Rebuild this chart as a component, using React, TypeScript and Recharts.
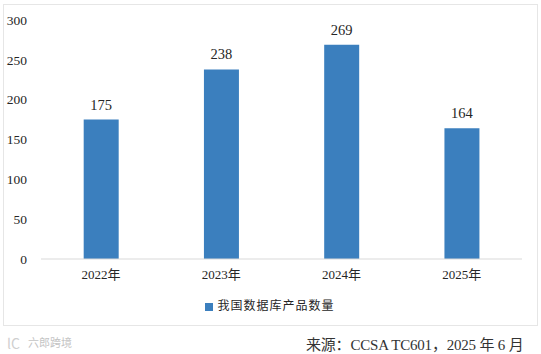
import { BarChart, Bar, XAxis, YAxis, Legend, LabelList } from 'recharts'

const years = ['2022年', '2023年', '2024年', '2025年']
const counts = [175, 238, 269, 164]
const yTicks = [0, 50, 100, 150, 200, 250, 300]

const data = years.map((year, i) => ({ year, count: counts[i] }))

const FONT = '"Liberation Serif", "Noto Sans CJK SC", serif'
const TEXT = '#262626'

export default function App() {
	return (
		<div style={{ position: 'absolute', left: 0, top: 0, width: 541, height: 354, background: '#fff', fontFamily: FONT }}>
			<div style={{ position: 'absolute', left: 3, top: 4, width: 533, height: 320, border: '1.5px solid #e6e6e6' }} />
			<div style={{ position: 'absolute', left: 0, top: 0 }}>
				<BarChart
					width={541}
					height={330}
					data={data}
					barCategoryGap="35.5%"
					margin={{ top: 20, right: 19, bottom: 23, left: 0 }}
				>
					<XAxis
						dataKey="year"
						height={30}
						tickLine={false}
						axisLine={{ stroke: '#d9d9d9' }}
						tick={{ fill: TEXT, fontSize: 13, fontFamily: FONT }}
						tickMargin={5}
					/>
					<YAxis
						width={41}
						domain={[0, 300]}
						ticks={yTicks}
						tickLine={false}
						axisLine={false}
						tick={{ fill: TEXT, fontSize: 13.5, fontFamily: FONT }}
						tickMargin={8}
					/>
					<Legend
						verticalAlign="bottom"
						iconType="square"
						iconSize={8}
						wrapperStyle={{ bottom: 16, left: 14, fontSize: 12, letterSpacing: 1, fontFamily: FONT }}
						formatter={(value) => <span style={{ color: TEXT }}>{value}</span>}
					/>
					<Bar dataKey="count" name="我国数据库产品数量" fill="#3b7fbe" isAnimationActive={false}>
						<LabelList dataKey="count" position="top" offset={10} fill={TEXT} fontSize={14.5} fontFamily={FONT} />
					</Bar>
				</BarChart>
			</div>
			<div style={{ position: 'absolute', left: 306, top: 333, fontSize: 15, letterSpacing: -0.2, color: '#333', whiteSpace: 'nowrap' }}>
				来源：CCSA TC601，2025 年 6 月
			</div>
			<div style={{ position: 'absolute', left: 7, top: 333, fontSize: 14, color: '#cfcfcf', whiteSpace: 'nowrap', fontFamily: '"Noto Sans CJK SC"' }}>
				lC
			</div>
			<div style={{ position: 'absolute', left: 28, top: 334, fontSize: 11, color: '#c4c4c4', whiteSpace: 'nowrap', fontFamily: '"Noto Sans CJK SC"' }}>
				六郎跨境
			</div>
		</div>
	)
}
